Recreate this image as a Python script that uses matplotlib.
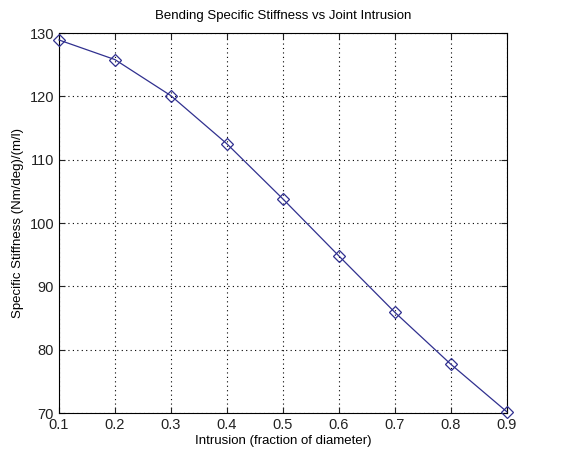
import matplotlib
matplotlib.use("Agg")
import matplotlib.pyplot as plt

intrusion = [0.1, 0.2, 0.3, 0.4, 0.5, 0.6, 0.7, 0.8, 0.9]
stiffness = [128.9, 125.8, 120.1, 112.5, 103.8, 94.8, 85.9, 77.7, 70.2]
x_ticks = [0.1, 0.2, 0.3, 0.4, 0.5, 0.6, 0.7, 0.8, 0.9]
y_ticks = [70, 80, 90, 100, 110, 120, 130]

plt.rcParams['font.family'] = ['Liberation Sans', 'DejaVu Sans']

fig = plt.figure(figsize=(5.65, 4.61), dpi=100)
ax = fig.add_axes([0.1044, 0.1041, 0.7926, 0.8243])

ax.plot(intrusion, stiffness, color='#30308f', linewidth=0.9,
        marker='D', markersize=6, markerfacecolor='none',
        markeredgecolor='#30308f', markeredgewidth=0.9, clip_on=False, zorder=3)

ax.set_xlim(0.1, 0.9)
ax.set_ylim(70, 130)
ax.set_xticks(x_ticks)
ax.set_xticklabels([f"{t:.1f}" for t in x_ticks])
ax.set_yticks(y_ticks)
ax.grid(True, linestyle=(0, (1, 3)), color='black', linewidth=0.8)
ax.tick_params(direction='in', top=True, right=True, labelsize=10.5,
               length=4, width=0.8, colors='#222222')
for s in ax.spines.values():
    s.set_linewidth(0.8)

ax.set_title('Bending Specific Stiffness vs Joint Intrusion', fontsize=9.5, pad=10)
ax.set_xlabel('Intrusion (fraction of diameter)', fontsize=9.5, labelpad=2)
ax.set_ylabel('Specific Stiffness (Nm/deg)/(m/l)', fontsize=9.5, labelpad=4)

fig.savefig('out.png', dpi=100, facecolor='white')
